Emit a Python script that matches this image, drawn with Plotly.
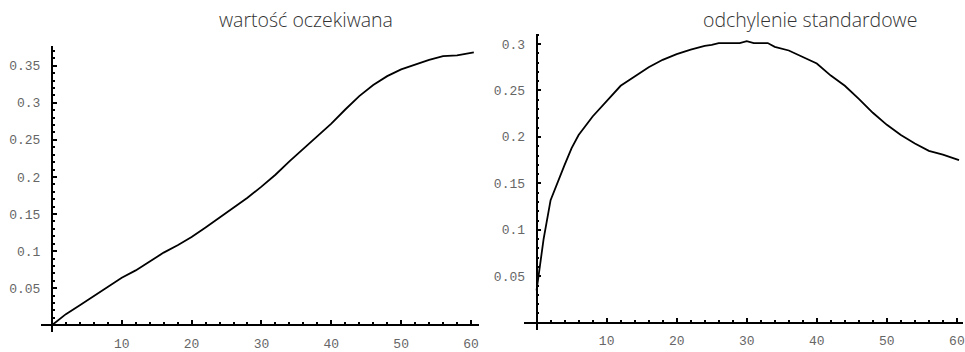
import plotly.graph_objects as go

# Expected value of the process over time
mean_t = [0, 2, 4, 6, 8, 10, 12, 14, 16, 18, 20, 22, 24, 26, 28, 30, 32, 34, 36, 38,
          40, 42, 44, 46, 48, 50, 52, 54, 56, 58, 60.4]
mean_v = [0.0, 0.015, 0.027, 0.039, 0.052, 0.064, 0.074, 0.086, 0.098, 0.108, 0.119,
          0.132, 0.145, 0.158, 0.172, 0.187, 0.203, 0.221, 0.238, 0.254, 0.272,
          0.291, 0.309, 0.324, 0.336, 0.345, 0.352, 0.358, 0.363, 0.364, 0.368]

# Standard deviation of the process over time
std_t = [0, 1, 2, 3, 4, 5, 6, 8, 10, 12, 14, 16, 18, 20, 22, 24, 25, 26, 28, 29, 30, 31,
         32, 33, 34, 36, 38, 40, 42, 44, 46, 48, 50, 52, 54, 56, 58, 60.3]
std_v = [0.035, 0.09, 0.132, 0.152, 0.170, 0.188, 0.202, 0.222, 0.239, 0.255, 0.265,
         0.275, 0.283, 0.289, 0.294, 0.298, 0.299, 0.301, 0.301, 0.301, 0.303, 0.301,
         0.301, 0.301, 0.297, 0.293, 0.286, 0.279, 0.266, 0.255, 0.241, 0.226, 0.213,
         0.202, 0.193, 0.185, 0.181, 0.175]

x_ticks = [10, 20, 30, 40, 50, 60]
mean_yticks = [0.05, 0.1, 0.15, 0.2, 0.25, 0.3, 0.35]
std_yticks = [0.05, 0.1, 0.15, 0.2, 0.25, 0.3]
titles = ["wartość oczekiwana", "odchylenie standardowe"]


def fmt(v):
    s = f"{v:.2f}".rstrip("0").rstrip(".")
    return s


W, H = 965, 352
TICK_FONT = dict(family="Liberation Mono, Courier New, monospace", size=13, color="#666666")

fig = go.Figure()
fig.add_trace(go.Scatter(x=mean_t, y=mean_v, mode="lines",
                         line=dict(color="black", width=1.8), xaxis="x", yaxis="y"))
fig.add_trace(go.Scatter(x=std_t, y=std_v, mode="lines",
                         line=dict(color="black", width=1.8), xaxis="x2", yaxis="y2"))


def axes(px0, px_per, x_dom_px, py0, py_per, y_dom_px, yticks):
    """Build an axis pair crossing at the origin, from pixel geometry."""
    xr = [(x_dom_px[0] - px0) / px_per, (x_dom_px[1] - px0) / px_per]
    yr = [(py0 - y_dom_px[1]) / py_per, (py0 - y_dom_px[0]) / py_per]
    xdom = [x_dom_px[0] / W, x_dom_px[1] / W]
    ydom = [(H - y_dom_px[1]) / H, (H - y_dom_px[0]) / H]
    xpos = (H - py0) / H
    ypos = px0 / W
    common = dict(showgrid=False, zeroline=False, showline=True, linecolor="black",
                  linewidth=1.8, ticks="inside", tickcolor="black", tickwidth=1.5,
                  ticklen=4, tickfont=TICK_FONT, anchor="free", fixedrange=True,
                  ticklabeloverflow="allow")
    xa = dict(common, domain=xdom, range=xr, position=xpos, tickmode="array",
              tickvals=x_ticks, ticktext=[str(v) for v in x_ticks],
              ticklabelstandoff=6,
              minor=dict(dtick=2, tick0=0, ticks="inside", ticklen=2,
                         tickcolor="black", tickwidth=1.8))
    ya = dict(common, domain=ydom, range=yr, position=ypos, tickmode="array",
              tickvals=yticks, ticktext=[fmt(v) for v in yticks],
              ticklabelstandoff=8,
              minor=dict(dtick=0.01, tick0=0, ticks="inside", ticklen=2,
                         tickcolor="black", tickwidth=1.8))
    return xa, ya


xa1, ya1 = axes(52, 7.0, [41, 480], 329, 750, [47, 336], mean_yticks)
xa2, ya2 = axes(537.7, 7.02, [525, 965], 326.5, 940, [34, 333.3], std_yticks)

fig.update_layout(
    width=W, height=H, margin=dict(l=0, r=0, t=0, b=0),
    paper_bgcolor="white", plot_bgcolor="white", showlegend=False,
    xaxis=xa1, yaxis=ya1, xaxis2=xa2, yaxis2=ya2,
)

title_font = dict(family="Open Sans, Lato, sans-serif", size=19.5, color="#333333", weight=300)
for txt, cx in zip(titles, [307, 812]):
    fig.add_annotation(text=txt, x=cx / W, y=(H - 20) / H, xref="paper", yref="paper",
                       xanchor="center", yanchor="middle", showarrow=False, font=title_font)

fig.write_html("out.html")
